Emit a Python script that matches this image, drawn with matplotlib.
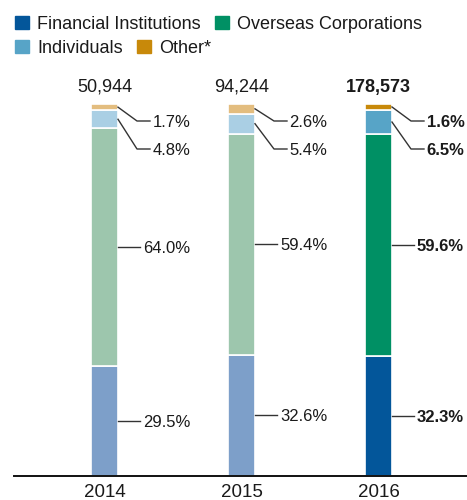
import matplotlib
matplotlib.use("Agg")
import matplotlib.pyplot as plt
from matplotlib.patches import Rectangle

plt.rcParams['font.family'] = ['Liberation Sans', 'DejaVu Sans']

# data
years = ['2014', '2015', '2016']
totals = ['50,944', '94,244', '178,573']
financial = [29.5, 32.6, 32.3]
overseas = [64.0, 59.4, 59.6]
individuals = [4.8, 5.4, 6.5]
other = [1.7, 2.6, 1.6]
categories = ['Financial Institutions', 'Overseas Corporations', 'Individuals', 'Other*']

dark = ['#03569a', '#009064', '#57a4c7', '#c8890a']
faded = ['#7d9fc9', '#9dc6ad', '#aacfe4', '#e3bd7f']
text_col = '#1a1a1a'
line_col = '#333333'

W, H = 467, 500
fig = plt.figure(figsize=(W / 100, H / 100), dpi=100)
# axes placed in pixel terms: x from 14 to 467, y from 476 (0%) to 104 (100%)
ax = fig.add_axes([14 / W, 1 - 476 / H, 1 - 14 / W, (476 - 104) / H])

spacing = 137.0
ax.set_xlim(-(104.5 - 14) / spacing, 2 + (467 - 378.5) / spacing)
ax.set_ylim(0, 100)
bar_w = 27 / spacing
px = 1 / spacing          # one pixel in x data units
py = 100 / 372.0          # one pixel in y data units

series = [financial, overseas, individuals, other]
for i, yr in enumerate(years):
    cols = dark if i == 2 else faded
    weight = 'bold' if i == 2 else 'normal'
    bottom = 0
    mids = []
    for s, vals in enumerate(series):
        ax.bar(i, vals[i], bottom=bottom, width=bar_w, color=cols[s],
               edgecolor='white', linewidth=1.2, zorder=2)
        mids.append(bottom + vals[i] / 2)
        bottom += vals[i]

    right = i + bar_w / 2
    # large segments: straight leader
    for s in (0, 1):
        ax.plot([right, i + 35.5 * px], [mids[s], mids[s]], color=line_col, lw=1, zorder=3)
        ax.text(i + 38.5 * px, mids[s], f'{series[s][i]:.1f}%', ha='left',
                va='center_baseline', fontsize=12, color=text_col, fontweight=weight)
    # small segments: elbow leader
    label_y = {3: 100 - 17 * py, 2: 100 - 45 * py}
    for s in (3, 2):
        ly = label_y[s]
        ax.plot([right, i + 32.5 * px, i + 45.5 * px], [mids[s], ly, ly],
                color=line_col, lw=1, zorder=3)
        ax.text(i + 48 * px, ly, f'{series[s][i]:.1f}%', ha='left',
                va='center_baseline', fontsize=12, color=text_col, fontweight=weight)

    ax.annotate(totals[i], (i, 100), xytext=(0, 12), textcoords='offset pixels',
                ha='center', va='baseline', fontsize=13, color=text_col,
                fontweight=weight, annotation_clip=False)
    ax.annotate(yr, (i, 0), xytext=(0, -21), textcoords='offset pixels',
                ha='center', va='baseline', fontsize=13.5, color=text_col,
                annotation_clip=False)

for side in ('top', 'right', 'left'):
    ax.spines[side].set_visible(False)
ax.spines['bottom'].set_color('#111111')
ax.spines['bottom'].set_linewidth(1.4)
ax.set_xticks([])
ax.set_yticks([])
ax.patch.set_alpha(0)

# legend drawn by hand (flowing layout)
legend_pos = [(15, 16), (215, 16), (15, 40), (137, 40)]
for (lx, ly), name, c in zip(legend_pos, categories, dark):
    fig.patches.append(Rectangle((lx / W, 1 - (ly + 13) / H), 14 / W, 13 / H,
                                 transform=fig.transFigure, color=c))
    fig.text((lx + 22) / W, 1 - (ly + 6.5) / H, name, ha='left', va='center_baseline',
             fontsize=13, color=text_col)

fig.savefig('out.png', dpi=100)
